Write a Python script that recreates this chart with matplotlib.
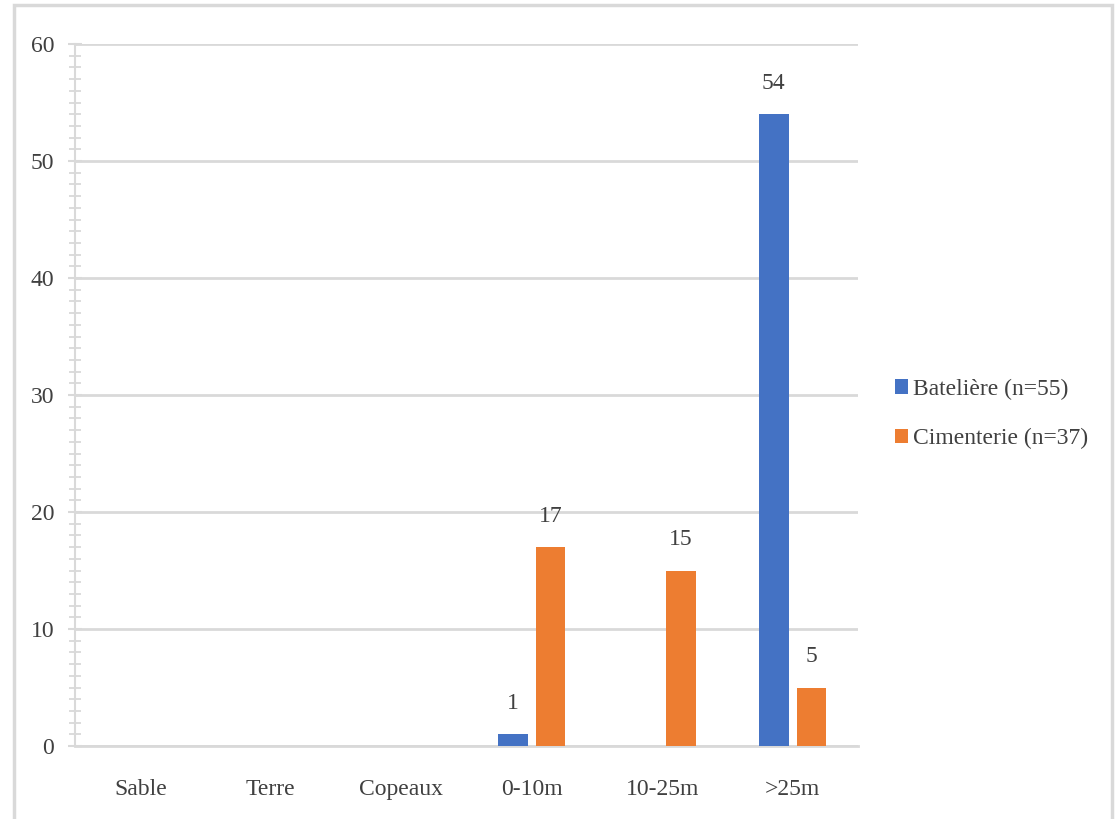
import matplotlib.pyplot as plt
import numpy as np
from matplotlib.patches import Rectangle
from matplotlib.ticker import MultipleLocator

categories = ['Sable', 'Terre', 'Copeaux', '0-10m', '10-25m', '>25m']
bateliere = [0, 0, 0, 1, 0, 54]
cimenterie = [0, 0, 0, 17, 15, 5]
series_names = ['Batelière (n=55)', 'Cimenterie (n=37)']

plt.rcParams['font.family'] = ['Liberation Serif', 'DejaVu Serif']

fig = plt.figure(figsize=(11.16, 8.19), dpi=100)
ax = fig.add_axes([75 / 1116, 1 - 746 / 819, (858 - 75) / 1116, (746 - 44) / 819])

x = np.arange(len(categories))
w = 0.225
grey = '#D9D9D9'
text_col = '#404040'

b1 = ax.bar(x - 0.145, bateliere, w, color='#4472C4', label=series_names[0], zorder=3)
b2 = ax.bar(x + 0.145, cimenterie, w, color='#ED7D31', label=series_names[1], zorder=3)

for bars, vals in ((b1, bateliere), (b2, cimenterie)):
    for r, v in zip(bars, vals):
        if v:
            ax.annotate(str(v), (r.get_x() + r.get_width() / 2, v), xytext=(0, 22),
                        textcoords='offset points', ha='center', va='center',
                        fontsize=17, color=text_col)

ax.set_xlim(-0.5, len(categories) - 0.5)
ax.set_ylim(0, 60)
ax.yaxis.set_major_locator(MultipleLocator(10))
ax.yaxis.set_minor_locator(MultipleLocator(1))
ax.set_xticks(x)
ax.set_xticklabels(categories)
ax.grid(axis='y', color=grey, lw=2, zorder=0)

for s in ('top', 'right'):
    ax.spines[s].set_visible(False)
ax.spines['left'].set_color(grey)
ax.spines['left'].set_linewidth(1.5)
ax.spines['bottom'].set_color(grey)
ax.spines['bottom'].set_linewidth(2)
ax.tick_params(axis='y', which='major', direction='inout', length=10, width=1.5,
               color=grey, labelsize=17, labelcolor=text_col, pad=10)
ax.tick_params(axis='y', which='minor', direction='inout', length=9, width=1.3, color=grey)
ax.tick_params(axis='x', length=0, labelsize=17, labelcolor=text_col, pad=24)

leg = fig.legend(loc='center left', bbox_to_anchor=(874 / 1116, 1 - 414 / 819),
                 frameon=False, fontsize=17, handlelength=0.55, handleheight=0.55,
                 handletextpad=0.2, labelspacing=1.2, labelcolor=text_col)

fig.patches.append(Rectangle((14 / 1116, -0.05), (1112 - 14) / 1116, 1 - 5 / 819 + 0.05,
                             transform=fig.transFigure, fill=False, ec=grey, lw=2.5))

fig.savefig('out.png', dpi=100)
